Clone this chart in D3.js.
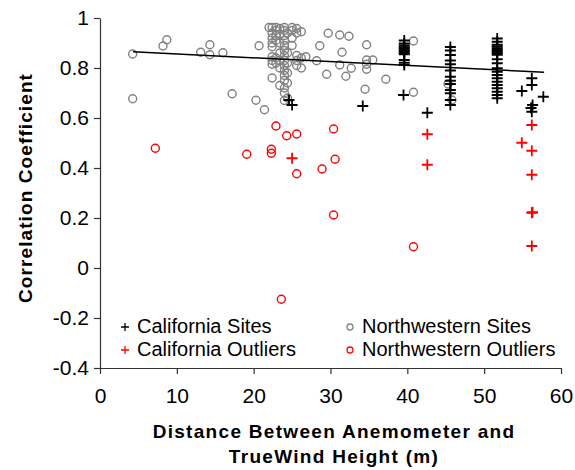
<!DOCTYPE html>
<html>
    <head>
        <meta charset="utf-8">
        <style>
            body{ margin: 0; background: #fff; }
            text{ font-family: "Liberation Sans", Arial, sans-serif; }
        </style>
    </head>
    <body>
        <svg id="chart" width="575" height="470"></svg>
        <script src="https://d3js.org/d3.v7.min.js"></script>
        <script>
            // California sites (black +)
            var caX = [39.6, 39.6, 39.6, 39.6, 39.6, 39.6, 39.6, 39.6, 39.6, 39.6, 39.6, 39.6, 39.5,
                       45.6, 45.6, 45.6, 45.6, 45.6, 45.6, 45.6, 45.6, 45.6, 45.6, 45.6, 45.6, 45.6,
                       51.7, 51.7, 51.7, 51.7, 51.7, 51.7, 51.7, 51.7, 51.7, 51.7, 51.7, 51.7, 51.7,
                       51.7, 51.7, 51.7, 51.7, 51.7, 51.7, 51.7, 51.7,
                       56.2, 56.2, 54.9, 57.7, 56.3, 56.1, 56.2, 42.6, 34.2, 24.6, 25.0];
            var caY = [0.910, 0.898, 0.890, 0.883, 0.877, 0.871, 0.866, 0.860, 0.855, 0.832, 0.821, 0.812, 0.692,
                       0.884, 0.870, 0.852, 0.830, 0.815, 0.790, 0.765, 0.749, 0.736, 0.712, 0.699, 0.672, 0.652,
                       0.918, 0.905, 0.893, 0.886, 0.879, 0.872, 0.866, 0.860, 0.853, 0.835, 0.819, 0.799, 0.785,
                       0.772, 0.759, 0.745, 0.732, 0.719, 0.705, 0.692, 0.679,
                       0.759, 0.732, 0.708, 0.685, 0.652, 0.640, 0.625, 0.621, 0.648, 0.672, 0.652];

            // California outliers (red +)
            var caOutX = [25.0, 42.6, 42.6, 56.2, 54.9, 56.2, 56.2, 56.2, 56.3, 56.2];
            var caOutY = [0.439, 0.535, 0.413, 0.572, 0.501, 0.469, 0.373, 0.221, 0.223, 0.088];

            // Northwestern sites (grey o)
            var nwX = [4.25, 4.25, 8.2, 8.7, 13.1, 14.3, 14.3, 16.0, 17.2, 20.3, 20.7, 21.4,
                       22.0, 22.4, 22.4, 22.4, 22.4, 22.4, 22.4, 22.4, 22.4, 22.4,
                       22.9, 22.9, 22.9, 22.9, 22.9, 22.9,
                       23.4, 23.4, 23.4, 23.4, 23.4, 23.4, 23.4,
                       24.0, 24.0, 24.0, 24.0, 24.0, 24.0, 24.0, 24.0, 24.0, 24.0, 24.0, 24.0, 24.0, 24.0, 24.0,
                       24.4, 24.4, 24.4, 24.4, 24.4, 24.4,
                       25.0, 25.0, 25.0, 25.0,
                       25.6, 25.6, 25.6, 25.6, 25.6,
                       26.2, 26.2, 26.2,
                       26.8, 28.2, 28.6, 29.7, 29.5, 31.2, 32.4, 31.5, 31.2, 32.7, 32.0,
                       34.7, 34.7, 34.7, 34.7, 35.5, 37.2, 34.5,
                       40.8, 40.8, 45.3, 45.8];
            var nwY = [0.856, 0.677, 0.888, 0.913, 0.863, 0.893, 0.853, 0.861, 0.697, 0.671, 0.889, 0.633,
                       0.962, 0.962, 0.940, 0.920, 0.900, 0.885, 0.845, 0.830, 0.815, 0.760,
                       0.962, 0.950, 0.930, 0.910, 0.840, 0.820,
                       0.958, 0.935, 0.900, 0.860, 0.830, 0.800, 0.730,
                       0.962, 0.950, 0.930, 0.910, 0.890, 0.870, 0.850, 0.830, 0.810, 0.790, 0.770, 0.750, 0.720, 0.700, 0.670,
                       0.940, 0.860, 0.820, 0.780, 0.740, 0.680,
                       0.962, 0.950, 0.920, 0.890,
                       0.958, 0.940, 0.850, 0.830, 0.810,
                       0.945, 0.840, 0.800,
                       0.845, 0.829, 0.889, 0.939, 0.775, 0.932, 0.927, 0.863, 0.812, 0.799, 0.767,
                       0.893, 0.832, 0.815, 0.795, 0.832, 0.755, 0.715,
                       0.908, 0.703, 0.736, 0.672];

            // Northwestern outliers (red o)
            var nwOutX = [7.2, 19.1, 22.3, 22.3, 22.9, 24.3, 25.6, 25.6, 23.6, 28.9, 30.4, 30.6, 30.4, 40.8];
            var nwOutY = [0.479, 0.455, 0.475, 0.459, 0.568, 0.529, 0.536, 0.377, -0.125, 0.396, 0.556, 0.435, 0.212, 0.085];

            // trend line
            var trendX = [4.3, 57.8];
            var trendY = [0.865, 0.783];

            var xTicks = [0, 10, 20, 30, 40, 50, 60];
            var yTicks = [-0.4, -0.2, 0, 0.2, 0.4, 0.6, 0.8, 1];

            var svg = d3.select("#chart");
            var x = d3.scaleLinear().domain([0, 60]).range([100, 561]);
            var y = d3.scaleLinear().domain([-0.4, 1]).range([368, 18]);

            var fmt = function(d){ return String(+d.toFixed(1)); };

            var gx = svg.append("g")
                .attr("transform", "translate(0,368)")
                .call(d3.axisBottom(x).tickValues(xTicks).tickSize(6).tickSizeOuter(0).tickPadding(14).tickFormat(fmt));
            var gy = svg.append("g")
                .attr("transform", "translate(100,0)")
                .call(d3.axisLeft(y).tickValues(yTicks).tickSize(6).tickSizeOuter(0).tickPadding(5).tickFormat(fmt));
            [gx, gy].forEach(function(g){
                g.selectAll("path, line").attr("stroke", "#333").attr("stroke-width", 1.2);
                g.selectAll("text").attr("font-size", 21).attr("fill", "#000")
                    .style("font-family", "'Liberation Sans', Arial, sans-serif");
            });

            // axis titles
            svg.append("text")
                .attr("transform", "translate(32,188) rotate(-90)")
                .attr("text-anchor", "middle")
                .attr("font-size", 19).attr("font-weight", "bold")
                .attr("letter-spacing", 1.1)
                .text("Correlation Coefficient");
            svg.append("text")
                .attr("x", 334).attr("y", 438)
                .attr("text-anchor", "middle")
                .attr("font-size", 19).attr("font-weight", "bold")
                .attr("letter-spacing", 1.3)
                .text("Distance Between Anemometer and");
            svg.append("text")
                .attr("x", 334).attr("y", 463)
                .attr("text-anchor", "middle")
                .attr("font-size", 19).attr("font-weight", "bold")
                .attr("letter-spacing", 1.3)
                .text("TrueWind Height (m)");

            var cross = "M-5.5,0H5.5M0,-5.5V5.5";

            function drawCrosses(xs, ys, color){
                svg.append("g").selectAll("path")
                    .data(xs)
                    .enter()
                    .append("path")
                    .attr("d", cross)
                    .attr("transform", function(d, i){ return "translate(" + x(d) + "," + y(ys[i]) + ")"; })
                    .attr("stroke", color)
                    .attr("stroke-width", 1.8)
                    .attr("fill", "none");
            }
            function drawCircles(xs, ys, color){
                svg.append("g").selectAll("circle")
                    .data(xs)
                    .enter()
                    .append("circle")
                    .attr("cx", function(d){ return x(d); })
                    .attr("cy", function(d, i){ return y(ys[i]); })
                    .attr("r", 4)
                    .attr("stroke", color)
                    .attr("stroke-width", 1.4)
                    .attr("fill", "none");
            }

            drawCircles(nwX, nwY, "#808080");
            drawCircles(nwOutX, nwOutY, "#ff0000");
            drawCrosses(caX, caY, "#000");
            drawCrosses(caOutX, caOutY, "#ff0000");

            svg.append("path")
                .datum(trendX)
                .attr("d", d3.line()
                    .x(function(d){ return x(d); })
                    .y(function(d, i){ return y(trendY[i]); }))
                .attr("stroke", "#000")
                .attr("stroke-width", 1.5)
                .attr("fill", "none");

            // legend
            var legend = [
                {label: "California Sites", color: "#000", shape: "cross", lx: 125, ly: 327},
                {label: "Northwestern Sites", color: "#808080", shape: "circle", lx: 350, ly: 327},
                {label: "California Outliers", color: "#ff0000", shape: "cross", lx: 125, ly: 350},
                {label: "Northwestern Outliers", color: "#ff0000", shape: "circle", lx: 350, ly: 350}
            ];
            var lg = svg.append("g").selectAll("g")
                .data(legend)
                .enter()
                .append("g")
                .attr("transform", function(d){ return "translate(" + d.lx + "," + d.ly + ")"; });
            lg.filter(function(d){ return d.shape == "cross"; })
                .append("path")
                .attr("d", "M-4,0H4M0,-4V4")
                .attr("stroke", function(d){ return d.color; })
                .attr("stroke-width", 1.3);
            lg.filter(function(d){ return d.shape == "circle"; })
                .append("circle")
                .attr("r", 3)
                .attr("fill", "none")
                .attr("stroke", function(d){ return d.color; })
                .attr("stroke-width", 1.3);
            lg.append("text")
                .attr("x", 12)
                .attr("y", 6)
                .attr("font-size", 20)
                .text(function(d){ return d.label; });
        </script>
    </body>
</html>
